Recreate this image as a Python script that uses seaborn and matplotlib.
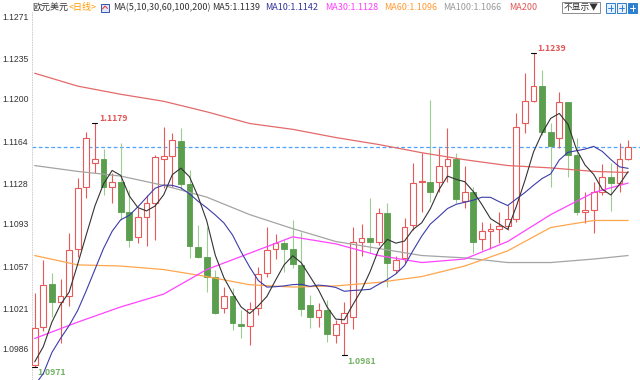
import numpy as np
import pandas as pd
import matplotlib
matplotlib.use("Agg")
import matplotlib.pyplot as plt
from matplotlib.patches import Rectangle
import seaborn as sns

# ---------------- data ----------------
opens = [1.0972, 1.1005, 1.1042, 1.1026, 1.1031, 1.1072, 1.1125, 1.1145, 1.1149, 1.1125,
         1.1129, 1.1103, 1.1082, 1.1099, 1.1111, 1.1149, 1.1151, 1.1164, 1.1127, 1.1073,
         1.1065, 1.1048, 1.1021, 1.1031, 1.1007, 1.1006, 1.1021, 1.1051, 1.1072, 1.1077,
         1.1072, 1.1058, 1.1024, 1.1013, 1.1019, 1.0998, 1.1008, 1.1013, 1.1078, 1.1081,
         1.1078, 1.1102, 1.1054, 1.1064, 1.1092, 1.1129, 1.1129, 1.1129, 1.1143, 1.1149,
         1.1113, 1.1120, 1.1080, 1.1087, 1.1089, 1.1091, 1.1097, 1.1179, 1.1198, 1.1211,
         1.1172, 1.1167, 1.1197, 1.1152, 1.1103, 1.1105, 1.1120, 1.1133, 1.1128, 1.1149]
highs = [1.1034, 1.1062, 1.1051, 1.1046, 1.1085, 1.1132, 1.1172, 1.1179, 1.1157, 1.1137,
         1.1162, 1.1122, 1.1107, 1.1118, 1.1152, 1.1176, 1.1171, 1.1175, 1.1139, 1.1092,
         1.1090, 1.1054, 1.1039, 1.1038, 1.1019, 1.1026, 1.1056, 1.1090, 1.1084, 1.1079,
         1.1096, 1.1086, 1.1032, 1.1025, 1.1028, 1.1011, 1.1026, 1.1090, 1.1093, 1.1115,
         1.1107, 1.1111, 1.1066, 1.1098, 1.1145, 1.1154, 1.1199, 1.1158, 1.1175, 1.1154,
         1.1143, 1.1125, 1.1095, 1.1094, 1.1103, 1.1109, 1.1188, 1.1222, 1.1239, 1.1225,
         1.1179, 1.1206, 1.1197, 1.1167, 1.1120, 1.1129, 1.1144, 1.1145, 1.1162, 1.1165]
lows = [1.0971, 1.1001, 1.1013, 1.0991, 1.1023, 1.1065, 1.1115, 1.1137, 1.1118, 1.1111,
        1.1096, 1.1073, 1.1077, 1.1074, 1.1079, 1.1124, 1.1125, 1.1122, 1.1064, 1.1064,
        1.1035, 1.1016, 1.1017, 1.1002, 1.0995, 1.0989, 1.1015, 1.1048, 1.1063, 1.1052,
        1.1055, 1.1014, 1.1004, 1.1005, 1.0992, 1.0991, 1.0981, 1.1003, 1.1066, 1.1068,
        1.1075, 1.1039, 1.1051, 1.1060, 1.1088, 1.1103, 1.1112, 1.1120, 1.1129, 1.1111,
        1.1107, 1.1068, 1.1071, 1.1072, 1.1077, 1.1088, 1.1095, 1.1171, 1.1197, 1.1169,
        1.1125, 1.1158, 1.1133, 1.1101, 1.1094, 1.1085, 1.1118, 1.1104, 1.1120, 1.1148]
closes = [1.1004, 1.1041, 1.1026, 1.1031, 1.1071, 1.1124, 1.1167, 1.1149, 1.1125, 1.1129,
          1.1103, 1.1079, 1.1099, 1.1111, 1.1150, 1.1151, 1.1165, 1.1127, 1.1074, 1.1065,
          1.1048, 1.1017, 1.1031, 1.1008, 1.1006, 1.1020, 1.1050, 1.1071, 1.1077, 1.1072,
          1.1059, 1.1020, 1.1013, 1.1019, 1.0999, 1.1007, 1.1017, 1.1078, 1.1081, 1.1078,
          1.1102, 1.1060, 1.1062, 1.1090, 1.1128, 1.1130, 1.1120, 1.1143, 1.1149, 1.1114,
          1.1120, 1.1078, 1.1087, 1.1089, 1.1091, 1.1097, 1.1176, 1.1198, 1.1211, 1.1172,
          1.1160, 1.1197, 1.1152, 1.1103, 1.1105, 1.1120, 1.1133, 1.1128, 1.1149, 1.1159]

# moving-average values before enough bars are visible
ma5_head = [1.0975, 1.0988, 1.1009, 1.1024]
ma10_head = [1.0955, 1.0965, 1.0983, 1.0995, 1.1006, 1.1019, 1.1036, 1.1054, 1.1072]

# long moving averages read at sampled bars
ma_idx = [0, 5, 10, 15, 20, 25, 30, 35, 40, 45, 50, 55, 60, 65, 69]
ma30_pts = [1.0995, 1.1009, 1.1022, 1.1033, 1.1054, 1.1068, 1.1082, 1.1076, 1.1066, 1.1060,
            1.1063, 1.1078, 1.1101, 1.1120, 1.1128]
ma60_pts = [1.1066, 1.1058, 1.1057, 1.1054, 1.1048, 1.1041, 1.1039, 1.1040, 1.1043, 1.1048,
            1.1057, 1.1070, 1.1090, 1.1096, 1.1096]
ma100_pts = [1.1143, 1.1138, 1.1134, 1.1126, 1.1116, 1.1101, 1.1089, 1.1078, 1.1072, 1.1066,
             1.1064, 1.1060, 1.1060, 1.1063, 1.1066]
ma200_pts = [1.1222, 1.1211, 1.1204, 1.1198, 1.1189, 1.1179, 1.1174, 1.1167, 1.1161, 1.1154,
             1.1148, 1.1143, 1.1141, 1.1138, 1.1137]

y_ticks = [1.1271, 1.1235, 1.1200, 1.1164, 1.1128, 1.1093, 1.1057, 1.1021, 1.0986]
y_ticklabels = ["1.1271", "1.1235", "1.1200", "1.1164", "1.1128", "1.1093", "1.1057", "1.1021", "1.0986"]

title_name = "欧元美元"
title_period = "<日线>"
header_items = [("MA(5,10,30,60,100,200)", "#333333", 113),
                ("MA5:1.1139", "#333333", 212),
                ("MA10:1.1142", "#33339a", 265),
                ("MA30:1.1128", "#ff3cff", 325),
                ("MA60:1.1096", "#ff9a33", 384),
                ("MA100:1.1066", "#9a9a9a", 443),
                ("MA200", "#e35555", 509)]
hide_label = "不显示▼"

# ---------------- styling ----------------
sns.set_theme(style="white")
FONT = ["Noto Sans CJK SC", "DejaVu Sans"]
plt.rcParams["font.family"] = FONT

W, H = 640, 380
fig = plt.figure(figsize=(W / 100, H / 100), dpi=100)
ax_left, ax_top, ax_bottom = 32, 12, 380
ax = fig.add_axes([ax_left / W, 1 - ax_bottom / H, (W - ax_left) / W, (ax_bottom - ax_top) / H])

RED = "#e85a5a"
GREEN = "#5a9e4e"
GREEN_WICK = "#9ccd90"

n = len(closes)
xs = np.arange(n)
o = np.array(opens); c = np.array(closes); h = np.array(highs); l = np.array(lows)
up = c >= o

# wicks
ax.vlines(xs[up], l[up], h[up], color=RED, linewidth=0.8, zorder=2)
ax.vlines(xs[~up], l[~up], h[~up], color=GREEN_WICK, linewidth=0.8, zorder=2)
# bodies
body_h = np.maximum(np.abs(c - o), 0.00005)
body_b = np.minimum(o, c)
ax.bar(xs[up], body_h[up], bottom=body_b[up], width=0.68, facecolor="white",
       edgecolor=RED, linewidth=0.8, zorder=3)
ax.bar(xs[~up], body_h[~up], bottom=body_b[~up], width=0.68, facecolor=GREEN,
       edgecolor=GREEN, linewidth=0.6, zorder=3)

# moving averages
cs = pd.Series(closes)
ma5 = cs.rolling(5).mean().to_numpy()
ma5[:len(ma5_head)] = ma5_head
ma10 = cs.rolling(10).mean().to_numpy()
ma10[:len(ma10_head)] = ma10_head

sns.lineplot(x=ma_idx, y=ma200_pts, ax=ax, color="#e46a6a", linewidth=0.9, zorder=4)
sns.lineplot(x=ma_idx, y=ma100_pts, ax=ax, color="#a4a4a4", linewidth=0.9, zorder=4)
sns.lineplot(x=ma_idx, y=ma60_pts, ax=ax, color="#ffa64d", linewidth=0.9, zorder=4)
sns.lineplot(x=ma_idx, y=ma30_pts, ax=ax, color="#ff44ff", linewidth=0.9, zorder=4)
sns.lineplot(x=xs, y=ma10, ax=ax, color="#3c3caa", linewidth=0.8, zorder=5)
sns.lineplot(x=xs, y=ma5, ax=ax, color="#333333", linewidth=0.8, zorder=6)

# last price dashed line
ax.axhline(closes[-1], color="#4da3ff", linewidth=0.9, linestyle=(0, (3, 2)), zorder=1)

# extreme markers and labels
i_hi1 = int(np.argmax(h[:20]))
i_hi2 = int(np.argmax(h))
i_lo1 = int(np.argmin(l[:20]))
i_lo2 = 20 + int(np.argmin(l[20:50]))
for i, val in [(i_hi1, h[i_hi1]), (i_hi2, h[i_hi2]), (i_lo1, l[i_lo1]), (i_lo2, l[i_lo2])]:
    ax.plot([i - 0.3, i + 0.3], [val, val], color="black", linewidth=0.8, zorder=7)
ax.annotate(f"{h[i_hi1]:.4f}", xy=(i_hi1, h[i_hi1]), xytext=(4, 5), textcoords="offset pixels",
            color="#e35555", fontsize=6.3, fontweight="bold", ha="left", va="center")
ax.annotate(f"{h[i_hi2]:.4f}", xy=(i_hi2, h[i_hi2]), xytext=(4, 5), textcoords="offset pixels",
            color="#e35555", fontsize=6.3, fontweight="bold", ha="left", va="center")
ax.annotate(f"{l[i_lo1]:.4f}", xy=(i_lo1, l[i_lo1]), xytext=(3, -6), textcoords="offset pixels",
            color="#74b266", fontsize=6.3, fontweight="bold", ha="left", va="center")
ax.annotate(f"{l[i_lo2]:.4f}", xy=(i_lo2, l[i_lo2]), xytext=(3, -7), textcoords="offset pixels",
            color="#74b266", fontsize=6.3, fontweight="bold", ha="left", va="center")

# scales
step = 8.6
first_px = 34.7
ax.set_xlim((ax_left - first_px) / step, (W - first_px) / step)
px_per_unit = (349 - 16) / (1.1271 - 1.0986)
ytop = 1.1271 + (16 - ax_top) / px_per_unit
ybot = ytop - (ax_bottom - ax_top) / px_per_unit
ax.set_ylim(ybot, ytop)

ax.set_xticks([])
ax.set_yticks(y_ticks)
ax.set_yticklabels(y_ticklabels, family=["Liberation Sans", "DejaVu Sans"], fontsize=6.2, color="#333333")
ax.tick_params(axis="y", length=2, width=0.6, color="#999999", direction="out",
               pad=(ax_left - 2 - 3) * 0.72)
for lab in ax.get_yticklabels():
    lab.set_horizontalalignment("left")
for s in ["top", "right", "bottom"]:
    ax.spines[s].set_visible(False)
ax.spines["left"].set_color("#c8c8c8")
ax.spines["left"].set_linewidth(0.6)
ax.spines["left"].set_linestyle((0, (1, 2)))
ax.set_xlabel("")
ax.set_ylabel("")

# header
hy = 1 - 7.5 / H
t1 = fig.text(32 / W, hy, title_name, color="#333333", fontsize=6.5, va="center", ha="left")
ax.annotate(title_period, xy=(1, 0.5), xycoords=t1, xytext=(0.5, 0), textcoords="offset pixels",
            color="#ff9900", fontsize=6.5, va="center", ha="left", annotation_clip=False)
icon = Rectangle((101 / W, 1 - 12 / H), 8 / W, 8 / H, transform=fig.transFigure,
                 facecolor="#dfe6ff", edgecolor="#3355aa", linewidth=0.7)
fig.patches.append(icon)
fig.add_artist(plt.Line2D([102.5 / W, 105 / W, 107.5 / W], [1 - 9 / H, 1 - 6 / H, 1 - 8.5 / H],
                          transform=fig.transFigure, color="#dd3333", linewidth=0.7))
for s, col, xp in header_items:
    fig.text(xp / W, hy, s, color=col, fontsize=6.5, va="center", ha="left")

# right-side controls
fig.text(581 / W, hy, hide_label, color="#333333", fontsize=6.3, va="center", ha="center",
         bbox=dict(boxstyle="square,pad=0.15", facecolor="white", edgecolor="#7a7a7a", linewidth=0.6))
for k, xp in enumerate([606, 617, 628]):
    fc = "#2f7fd0" if k == 2 else "#e8f1fb"
    r = Rectangle((xp / W, 1 - 13 / H), 9 / W, 10 / H, transform=fig.transFigure,
                  facecolor=fc, edgecolor="#2f7fd0", linewidth=0.7)
    fig.patches.append(r)
    glyph_col = "white" if k == 2 else "#2f7fd0"
    fig.add_artist(plt.Line2D([(xp + 2) / W, (xp + 7) / W], [1 - 8 / H, 1 - 8 / H],
                              transform=fig.transFigure, color=glyph_col, linewidth=0.7))
    fig.add_artist(plt.Line2D([(xp + 4.5) / W, (xp + 4.5) / W], [1 - 5 / H, 1 - 11 / H],
                              transform=fig.transFigure, color=glyph_col, linewidth=0.7))

fig.savefig("out.png", dpi=100)
